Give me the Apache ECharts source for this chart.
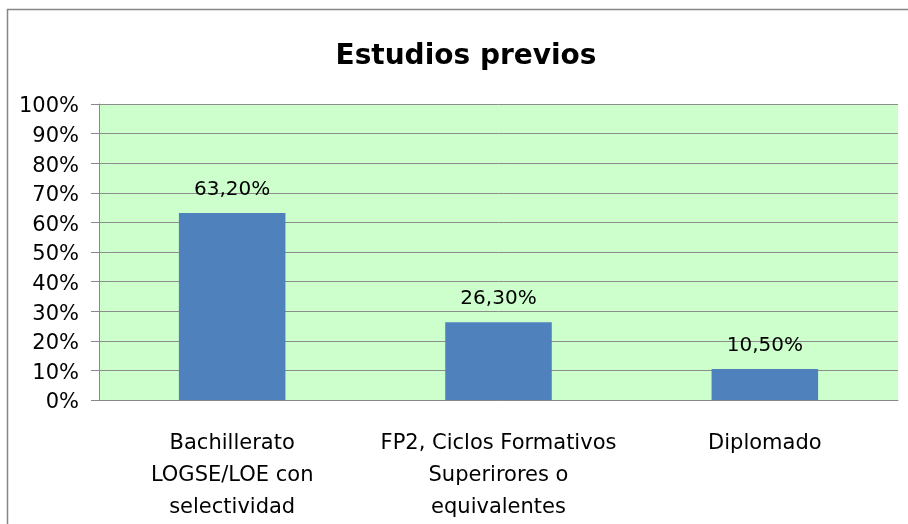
<!DOCTYPE html>
<html>
<head>
<meta charset="utf-8">
<script src="https://cdn.jsdelivr.net/npm/echarts@6/dist/echarts.min.js"></script>
<style>html,body{margin:0;padding:0;background:#fff;overflow:hidden}#c{width:908px;height:524px}</style>
</head>
<body>
<div id="c"></div>
<script>
var titleText = 'Estudios previos';
var categories = ['Bachillerato\nLOGSE/LOE con\nselectividad', 'FP2, Ciclos Formativos\nSuperirores o\nequivalentes', 'Diplomado'];
var values = [63.2, 26.3, 10.5];
var valueLabels = ['63,20%', '26,30%', '10,50%'];
var yMin = 0, yMax = 100, yStep = 10;

var chart = echarts.init(document.getElementById('c'), null, {renderer: 'canvas', width: 908, height: 524});
var F = 'DejaVu Sans';
chart.setOption({
  animation: false,
  backgroundColor: '#ffffff',
  graphic: [{
    type: 'rect', silent: true, z: -1,
    shape: {x: 7.5, y: 9.5, width: 1000, height: 600},
    style: {fill: 'none', stroke: '#868686', lineWidth: 1.5}
  }],
  title: {
    text: titleText, left: 461, top: 38, textAlign: 'center',
    textStyle: {fontFamily: F, fontWeight: 'bold', fontSize: 28, color: '#000'}
  },
  grid: {left: 99, width: 799, top: 104, height: 300, show: true, backgroundColor: '#CCFFCC', borderWidth: 0, containLabel: false},
  xAxis: {
    type: 'category', data: categories,
    axisLine: {show: true, lineStyle: {color: '#888', width: 1}},
    axisTick: {show: false},
    axisLabel: {fontFamily: F, fontSize: 21, color: '#000', lineHeight: 32, margin: 28, interval: 0}
  },
  yAxis: {
    type: 'value', min: yMin, max: yMax, interval: yStep,
    axisLine: {show: true, lineStyle: {color: '#888', width: 1}},
    axisTick: {show: true, length: 8, lineStyle: {color: '#888'}},
    splitLine: {show: true, lineStyle: {color: '#8c8c8c', width: 1}},
    axisLabel: {
      margin: 20,
      formatter: function(v){return '{a|' + v + '%}';},
      rich: {a: {fontFamily: F, fontSize: 21, color: '#000', padding: [6, 0, 0, 0]}}
    }
  },
  series: [{
    type: 'bar', data: values, barWidth: '40%',
    itemStyle: {color: '#4F81BD'},
    label: {show: true, position: 'top', distance: 13, fontFamily: F, fontSize: 20, color: '#000',
      formatter: function(p){return valueLabels[p.dataIndex];}}
  }]
});
</script>
</body>
</html>
